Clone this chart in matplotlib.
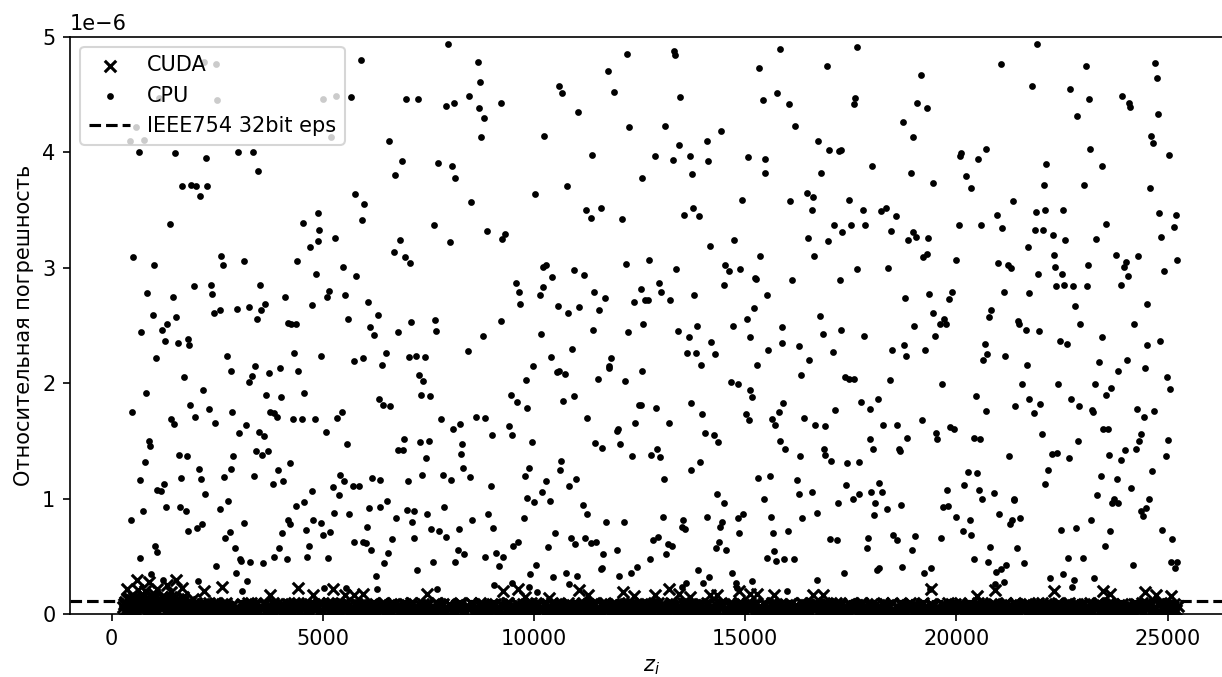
import numpy as np
import matplotlib
matplotlib.use("Agg")
import matplotlib.pyplot as plt

# ---------------------------------------------------------------------------
# CPU relative error (units of 1e-6), sampled points z_i
# ---------------------------------------------------------------------------
cpu_z = [
    2185, 2461, 1112, 2500, 5010, 5310, 567, 441, 772, 5191, 638, 1506, 2232, 2990, 3345, 3455, 1664, 1877, 1996, 2256,
    2090, 1372, 4891, 4521, 4915, 5294, 4876, 4694, 512, 1001, 2595, 2635, 3140, 4394, 4828, 5476, 1956, 2351, 3518,
    5902, 7954, 8672, 8719, 12191, 11749, 10597, 10668, 11883, 5665, 6967, 7251, 7914, 8096, 8466, 8695, 8806, 9224, 11047, 12238,
    6565, 8735, 10242, 11378, 6873, 7717, 8056, 8119, 6699, 10779, 10029, 5760, 5981, 8514, 5918, 7630, 11220, 11583, 11355, 12088,
    8885, 9248, 9311, 6825, 8001, 6675, 6944, 7070, 10203, 10289, 10952, 11181, 10424, 12175, 5784, 9579, 10218,
    13304, 13328, 15813, 17652, 15324, 16926, 19167, 13462, 15419, 15742, 16042, 17605, 17581, 19072, 19293, 13107, 14432, 16184, 18741, 18962,
    13422, 14085, 16721, 16989, 17218, 17257, 12862, 13280, 13683, 14125, 15056, 15458, 13746, 15474, 16784, 18007, 18922, 12562, 16460, 16610,
    14930, 16058, 17455, 16587, 13549, 13770, 13904, 17786, 18204, 18338, 18559, 17100, 17297, 17494, 17833, 18457, 16476, 16965, 18859, 18978,
    19049, 19340, 14164, 14724, 12728, 15348, 16626, 19214, 19309, 13351, 14527, 14614, 14874, 17636, 18378, 12957, 14503, 15237, 15261, 16105,
    17234, 12531,
    21913, 21045, 23065, 24706, 24754, 21779, 22694, 23136, 23933, 24083, 24107, 24777, 22860, 24620, 24667, 25038, 20106, 20090, 20698, 20516,
    23160, 22126, 23444, 20232, 20343, 19451, 22071, 23018, 24596, 21337, 20958, 21889, 22094, 22513, 24801, 25196, 20051, 20579, 21092, 21866,
    22047, 22292, 22576, 23538, 23310, 24840, 25148, 21692, 22315, 23775, 24312, 25219, 19987, 20982, 21211, 21282, 22339, 21937, 22497, 23112,
    23980, 24028, 24067, 24911, 22355, 22560, 22757, 23089, 23893,
    843, 1443, 2374, 4102, 4734, 5105, 5136, 5523, 5586, 970, 1301, 1530, 701, 1198, 1262, 1569, 1814, 1838, 1041, 2414,
    2572, 2966, 3258, 3542, 3637, 3440, 4173, 4252, 4355, 2729, 2816, 3392, 3321, 3242, 3724, 3984, 4323, 4410, 4947, 1704,
    812, 2169, 3660, 4008, 4560, 480, 1861, 2295, 1972, 1396, 1483, 2437, 2856, 3739, 3834, 3905, 4300, 4505, 4813, 5341,
    5452, 3171, 3014, 3479, 3613, 5073, 875, 907, 5562, 796, 1593, 1775, 2879, 3416, 3566, 3708, 4229, 2059, 2832, 3929,
    662, 1640, 2106, 2658, 3368, 3810, 4063, 5404, 5499, 1238, 1064, 1167, 2216, 2753, 4749, 5231, 5373, 1285, 733, 1625,
    1751, 2556, 4363, 4544, 5610, 5270, 457, 3124, 4173, 4221, 4765, 4962, 1798, 2011, 2145, 2674, 2793, 4039, 4592, 4994,
    5168,
    6076, 6304, 6123, 6210, 6770, 7093, 7654, 7677, 9208, 8782, 9650, 9674, 10139, 10558, 10802, 11070, 11426, 11670, 11528, 11402,
    12373, 12215, 10155, 5744, 5941, 6391, 6502, 7046, 7212, 7409, 8443, 7267, 7362, 7314, 7535, 6328, 6431, 6588, 10392, 9974,
    10905, 9800, 10534, 10589, 10731, 11828, 11781, 11765, 11505, 12152, 9445, 9603, 9824, 10692, 10936, 12483, 7804, 8072, 8253, 8624,
    8845, 9398, 9484, 9011, 6920, 6778, 6904, 7291, 7512, 8293, 8277, 7449, 8317, 8490, 9950, 11260, 11449, 11599, 11978, 11954,
    12041, 12396, 12325, 10637, 10613, 9887, 9776, 10274, 10179, 10818, 10999, 8979, 9839, 10005, 10376, 6162, 6360, 7022, 7338, 7835,
    8025, 5705, 5862, 6517, 6344, 6099, 6983, 7165, 6730, 7117, 7472, 7875, 8538, 8916, 9027, 9753, 7559, 7756, 7906, 8222,
    6052, 6628, 7149, 5728, 5949, 6012, 11149, 11244, 11710, 12128, 10494, 10865, 10976, 11205, 11339, 11473, 9626,
    12996, 12617, 12704, 13217, 13793, 15521, 18788, 19356, 12570, 13399, 13659, 13864, 13612, 13841, 14196, 14290, 13951, 14709, 15040, 15214,
    15103, 15545, 15876, 15861, 15277, 16263, 16500, 16326, 16768, 16831, 17273, 17076, 17810, 18480, 19001, 18765, 18804, 19246, 12546, 14653,
    14819, 15119, 15150, 17352, 17455, 17565, 18433, 12523, 12878, 13706, 13975, 13193, 15016, 15079, 15900, 15790, 15632, 15703, 16389, 16658,
    16878, 17123, 17746, 17944, 18141, 18252, 18599, 19183, 18828, 17960, 18031, 18630, 18654, 14038, 14259, 14346, 15829, 15947, 16295, 16855,
    16894, 17029, 17407, 17691, 12902, 12775, 12980, 13927, 13722, 13083, 15300, 15592, 16232, 16279, 16571, 17391, 17541, 17683, 17983, 18165,
    18236, 18078, 18362, 18678, 18054, 17186, 16705, 16350, 15442, 14322, 14488, 13059, 13525, 13493, 13572, 14101, 14448, 14401, 14827, 14945,
    15608, 14851, 15656, 16011, 17005, 17170, 17896, 18504, 18591, 19025, 12815, 12925, 13178, 14369,
    19901, 19830, 21116, 21731, 19435, 19711, 19617, 19759, 19498, 20824, 20777, 21463, 21487, 21652, 21952, 22820, 22931, 22447, 22623, 23460,
    24509, 24217, 24817, 24525, 20674, 20737, 20627, 21155, 21668, 23389, 23838, 24036, 24462, 24998, 25061, 19648, 21558, 22418, 23286, 23665,
    23554, 20469, 20713, 21400, 21708, 21976, 21842, 22710, 22907, 23215, 23239, 24280, 24438, 24683, 19506, 19553, 19845, 19940, 20406, 20556,
    22023, 22884, 23468, 23594, 24367, 24320, 25014, 21250, 22260, 22378, 22670, 23617, 23909, 24004, 24264, 24967, 20272, 20492, 20177, 19782,
    20540, 20603, 20895, 22173, 22110, 23420, 23799, 24130, 24643, 23333, 23728, 23696, 23830, 24564, 24485, 24383, 24422, 21353, 21376, 19680,
    19806, 20003, 20319, 21005, 21321, 21274, 21510, 20161, 20358, 19632, 22473, 22844, 23199, 23641, 24864, 25109,
    1017, 1080, 678, 2919, 2477, 3045, 3069, 3282, 3590, 3834, 3960, 4150, 4615, 4663, 5113, 2950, 3211, 3077, 2035, 922,
    1214, 5034, 5546,
    6139, 6541, 6446, 6249, 6273, 7228, 7606, 7693, 8135, 8206, 8340, 8829, 9090, 9271, 9161, 9508, 10337, 11639, 11954, 11576,
    11615, 12017, 12294, 12436, 9910, 10045, 10439, 10755, 11023, 10834, 9050, 9477, 9871, 10076,
    12752, 13122, 13257, 14314, 14551, 13880, 13991, 14148, 14685, 14772, 15166, 13493, 13588, 15506, 15687, 15727, 15924, 16145, 16689, 17344,
    17881, 18109, 18173, 18717, 18946, 19230, 19372, 15979, 14803,
    19411, 20422, 20800, 21447, 20753, 20927, 21061, 21179, 21605, 21132, 20919, 22221, 22528, 22639, 22781, 23002, 22734, 23262, 23515, 24193,
    25077, 25235, 25172,
]

cpu_err_e6 = [
    4.78, 4.76, 4.47, 4.45, 4.46, 4.49, 4.22, 4.10, 4.11, 4.13, 4.00, 3.99, 3.95, 4.00, 4.00, 3.84, 3.71, 3.72, 3.71, 3.71,
    3.62, 3.38, 3.47, 3.39, 3.33, 3.26, 3.23, 3.18, 3.09, 3.02, 3.10, 3.02, 3.06, 3.06, 2.95, 3.01, 2.84, 2.85, 2.85,
    4.80, 4.94, 4.78, 4.61, 4.85, 4.70, 4.57, 4.51, 4.52, 4.48, 4.46, 4.46, 4.40, 4.43, 4.49, 4.38, 4.30, 4.43, 4.35, 4.22,
    4.10, 4.13, 4.14, 3.98, 3.92, 3.91, 3.88, 3.78, 3.80, 3.71, 3.64, 3.64, 3.55, 3.57, 3.41, 3.37, 3.50, 3.52, 3.43, 3.42,
    3.32, 3.25, 3.29, 3.24, 3.22, 3.14, 3.09, 3.04, 3.01, 3.02, 2.98, 2.94, 2.92, 3.03, 2.93, 2.87, 2.83,
    4.88, 4.84, 4.89, 4.91, 4.73, 4.75, 4.67, 4.48, 4.45, 4.51, 4.42, 4.47, 4.42, 4.43, 4.38, 4.23, 4.18, 4.23, 4.26, 4.13,
    4.06, 4.10, 4.10, 4.02, 4.01, 4.02, 3.97, 3.93, 3.97, 3.92, 3.96, 3.94, 3.81, 3.82, 3.82, 3.88, 3.82, 3.78, 3.65, 3.61,
    3.59, 3.58, 3.59, 3.50, 3.46, 3.52, 3.45, 3.50, 3.49, 3.52, 3.45, 3.37, 3.31, 3.37, 3.37, 3.32, 3.26, 3.23, 3.24, 3.31,
    3.27, 3.26, 3.19, 3.24, 3.07, 3.10, 3.10, 3.09, 3.12, 2.99, 3.02, 2.97, 2.99, 2.99, 3.00, 2.87, 2.85, 2.91, 2.90, 2.89,
    2.89, 2.82,
    4.94, 4.76, 4.75, 4.77, 4.64, 4.57, 4.55, 4.46, 4.49, 4.43, 4.39, 4.33, 4.31, 4.14, 4.08, 3.98, 3.99, 3.97, 4.03, 3.94,
    4.03, 3.90, 3.88, 3.79, 3.69, 3.73, 3.72, 3.72, 3.69, 3.58, 3.46, 3.48, 3.50, 3.50, 3.47, 3.46, 3.37, 3.37, 3.34, 3.33,
    3.33, 3.28, 3.24, 3.38, 3.25, 3.27, 3.35, 3.18, 3.11, 3.11, 3.10, 3.07, 3.07, 3.04, 3.02, 3.00, 3.01, 2.95, 2.95, 3.02,
    3.01, 3.05, 2.93, 2.97, 2.84, 2.85, 2.84, 2.84, 2.85,
    2.78, 2.75, 2.77, 2.75, 2.68, 2.75, 2.80, 2.76, 2.56, 2.59, 2.51, 2.57, 2.44, 2.46, 2.37, 2.35, 2.38, 2.33, 2.22, 2.61,
    2.63, 2.64, 2.66, 2.63, 2.69, 2.56, 2.52, 2.51, 2.51, 2.24, 2.11, 2.15, 2.06, 2.01, 2.09, 2.13, 2.26, 2.11, 2.24, 2.05,
    1.92, 1.94, 1.90, 1.88, 1.92, 1.75, 1.81, 1.78, 1.71, 1.69, 1.65, 1.66, 1.75, 1.75, 1.74, 1.71, 1.69, 1.69, 1.69, 1.70,
    1.75, 1.64, 1.57, 1.58, 1.54, 1.58, 1.50, 1.46, 1.47, 1.32, 1.38, 1.37, 1.37, 1.41, 1.38, 1.41, 1.31, 1.26, 1.26, 1.25,
    1.16, 1.18, 1.17, 1.19, 1.20, 1.13, 1.15, 1.21, 1.15, 1.13, 1.08, 1.07, 1.04, 0.98, 1.07, 1.10, 1.03, 0.93, 0.89, 0.93,
    0.89, 0.91, 0.94, 0.97, 0.87, 0.88, 0.82, 0.79, 0.82, 0.78, 0.82, 0.79, 0.72, 0.75, 0.78, 0.66, 0.71, 0.70, 0.73, 0.69,
    0.71,
    2.70, 2.59, 2.49, 2.42, 2.44, 2.53, 2.55, 2.45, 2.54, 2.41, 2.79, 2.69, 2.76, 2.67, 2.61, 2.66, 2.79, 2.74, 2.63, 2.46,
    2.70, 2.44, 2.43, 2.19, 2.22, 2.16, 2.26, 2.23, 2.24, 2.23, 2.28, 2.07, 2.02, 1.90, 1.89, 1.86, 1.81, 1.80, 2.23, 2.15,
    2.30, 2.03, 2.10, 2.11, 2.08, 2.22, 2.15, 2.13, 2.04, 2.02, 1.90, 1.84, 1.79, 1.85, 1.89, 1.81, 1.69, 1.60, 1.65, 1.71,
    1.70, 1.63, 1.55, 1.55, 1.52, 1.42, 1.42, 1.49, 1.50, 1.47, 1.39, 1.35, 1.27, 1.19, 1.49, 1.70, 1.48, 1.44, 1.60, 1.59,
    1.47, 1.66, 1.37, 1.33, 1.25, 1.27, 1.20, 1.15, 1.06, 1.11, 1.17, 1.11, 1.01, 0.97, 0.98, 1.18, 1.16, 1.15, 1.21, 1.21,
    1.16, 1.11, 1.11, 0.98, 0.93, 0.92, 0.90, 0.89, 0.83, 0.80, 0.87, 0.93, 0.82, 0.87, 0.75, 0.83, 0.74, 0.72, 0.67, 0.74,
    0.76, 0.65, 0.66, 0.63, 0.63, 0.62, 0.95, 0.87, 0.80, 0.80, 0.70, 0.66, 0.61, 0.66, 0.62, 0.63, 0.63,
    2.79, 2.72, 2.72, 2.72, 2.76, 2.76, 2.74, 2.77, 2.51, 2.45, 2.40, 2.50, 2.26, 2.26, 2.36, 2.25, 2.16, 2.50, 2.56, 2.65,
    2.40, 2.29, 2.49, 2.35, 2.16, 2.32, 2.20, 2.07, 2.58, 2.43, 2.46, 2.27, 2.41, 2.29, 2.50, 2.33, 2.24, 2.29, 2.11, 2.01,
    1.99, 1.94, 1.88, 2.05, 2.04, 2.04, 2.03, 1.81, 1.79, 1.83, 1.73, 1.66, 1.73, 1.68, 1.83, 1.75, 1.69, 1.64, 1.70, 1.64,
    1.63, 1.77, 1.84, 1.78, 1.86, 1.64, 1.64, 1.68, 1.53, 1.52, 1.43, 1.43, 1.41, 1.57, 1.55, 1.49, 1.50, 1.43, 1.37, 1.43,
    1.38, 1.33, 1.31, 1.32, 1.43, 1.38, 1.36, 1.32, 1.25, 1.17, 1.18, 1.20, 1.16, 1.04, 1.06, 1.12, 1.00, 1.04, 1.06, 1.14,
    1.06, 0.96, 0.91, 0.95, 0.86, 0.96, 0.88, 0.83, 1.00, 1.04, 0.96, 0.84, 0.82, 0.76, 0.74, 0.84, 0.80, 0.76, 0.83, 0.87,
    0.84, 0.70, 0.70, 0.72, 0.65, 0.64, 0.66, 0.69, 0.64, 0.68, 0.64, 0.67, 0.61, 0.63,
    2.79, 2.73, 2.79, 2.78, 2.61, 2.56, 2.51, 2.51, 2.41, 2.63, 2.57, 2.54, 2.51, 2.46, 2.45, 2.67, 2.51, 2.37, 2.34, 2.40,
    2.69, 2.51, 2.37, 2.33, 2.34, 2.25, 2.20, 2.24, 2.16, 2.18, 2.11, 2.20, 2.13, 2.05, 1.95, 1.99, 1.99, 1.99, 1.99, 1.96,
    1.90, 1.89, 1.76, 1.80, 1.86, 1.82, 1.74, 1.86, 1.80, 1.77, 1.75, 1.78, 1.71, 1.76, 1.57, 1.52, 1.62, 1.60, 1.53, 1.52,
    1.56, 1.50, 1.60, 1.60, 1.56, 1.50, 1.51, 1.37, 1.39, 1.40, 1.35, 1.38, 1.34, 1.42, 1.43, 1.37, 1.23, 1.22, 1.12, 1.08,
    1.08, 1.00, 1.05, 1.25, 1.13, 1.20, 1.17, 1.09, 1.24, 1.03, 1.00, 0.96, 0.96, 1.00, 0.92, 0.89, 0.85, 1.00, 0.99, 0.93,
    0.94, 0.84, 0.82, 0.87, 0.82, 0.78, 0.83, 0.72, 0.69, 0.66, 0.73, 0.75, 0.82, 0.72, 0.73, 0.65,
    0.59, 0.54, 0.49, 0.57, 0.42, 0.48, 0.46, 0.45, 0.44, 0.50, 0.57, 0.48, 0.50, 0.59, 0.49, 0.36, 0.29, 0.20, 0.29, 0.35,
    0.30, 0.23, 0.23,
    0.56, 0.53, 0.44, 0.33, 0.22, 0.38, 0.45, 0.22, 0.45, 0.56, 0.52, 0.50, 0.53, 0.50, 0.42, 0.59, 0.58, 0.52, 0.56, 0.39,
    0.40, 0.33, 0.36, 0.41, 0.35, 0.43, 0.32, 0.36, 0.33, 0.26, 0.25, 0.27, 0.24, 0.19,
    0.48, 0.52, 0.59, 0.57, 0.56, 0.38, 0.27, 0.32, 0.36, 0.27, 0.29, 0.24, 0.27, 0.49, 0.55, 0.46, 0.48, 0.48, 0.30, 0.36,
    0.57, 0.38, 0.40, 0.41, 0.56, 0.36, 0.22, 0.20, 0.23,
    0.40, 0.48, 0.58, 0.57, 0.45, 0.37, 0.39, 0.43, 0.44, 0.28, 0.26, 0.31, 0.35, 0.49, 0.30, 0.49, 0.24, 0.31, 0.59, 0.43,
    0.45, 0.45, 0.40,
]

# ---------------------------------------------------------------------------
# CUDA relative error (units of 1e-8): dense low band + the few larger outliers
# ---------------------------------------------------------------------------
cuda_z = [
    272, 305, 341, 368, 402, 447, 476, 512, 548, 590, 618, 655, 702, 731, 770, 806, 842, 887, 915, 951,
    990, 1027, 1066, 1102, 1139, 1181, 1214, 1255, 1290, 1333, 1368, 1401, 1447, 1480, 1523, 1561, 1598, 1640, 1676, 1712,
    1760, 1795, 1838, 1870, 1915, 1951, 1993,
    2041, 2098, 2150, 2212, 2265, 2331, 2384, 2440, 2502, 2558, 2611, 2675, 2730, 2788, 2842, 2905, 2961,
    3020, 3077, 3135, 3190, 3255, 3307, 3366, 3420, 3481, 3538, 3596, 3650, 3711, 3765, 3827, 3880, 3942,
    4001, 4060, 4114, 4175, 4232, 4290, 4347, 4402, 4466, 4520, 4580, 4635, 4697, 4751, 4810, 4866, 4929, 4980,
    5041, 5095, 5158, 5210, 5272, 5328, 5385, 5440, 5502, 5556, 5620, 5673, 5731, 5790, 5846, 5905, 5962,
    6020, 6081, 6137, 6195, 6250, 6312, 6370, 6425, 6488, 6540, 6602, 6655, 6718, 6772, 6830, 6891, 6945,
    7003, 7066, 7120, 7181, 7236, 7298, 7351, 7410, 7471, 7525, 7588, 7640, 7703, 7756, 7818, 7872, 7935, 7990,
    8050, 8106, 8165, 8222, 8280, 8341, 8396, 8455, 8513, 8570, 8631, 8685, 8748, 8801, 8862, 8920, 8977,
    9036, 9095, 9150, 9211, 9266, 9327, 9382, 9444, 9498, 9560, 9615, 9677, 9731, 9793, 9848, 9907, 9965,
    10022, 10083, 10137, 10199, 10254, 10316, 10370, 10432, 10487, 10549, 10603, 10665, 10720, 10781, 10836, 10898, 10955,
    11012, 11073, 11128, 11190, 11245, 11306, 11361, 11423, 11478, 11540, 11594, 11656, 11711, 11772, 11827, 11889, 11944,
    12003, 12064, 12119, 12181, 12236, 12297, 12352, 12414, 12469, 12531, 12585, 12647, 12702, 12763, 12818, 12880, 12935, 12990,
    13052, 13107, 13169, 13224, 13285, 13340, 13402, 13457, 13519, 13573, 13635, 13690, 13751, 13806, 13868, 13923, 13981,
    14043, 14098, 14160, 14215, 14276, 14331, 14393, 14448, 14510, 14564, 14626, 14681, 14742, 14797, 14859, 14914, 14972,
    15034, 15089, 15151, 15206, 15267, 15322, 15384, 15439, 15501, 15555, 15617, 15672, 15733, 15788, 15850, 15905, 15963,
    16025, 16080, 16142, 16197, 16258, 16313, 16375, 16430, 16492, 16546, 16608, 16663, 16724, 16779, 16841, 16896, 16954,
    17016, 17071, 17133, 17188, 17249, 17304, 17366, 17421, 17483, 17537, 17599, 17654, 17715, 17770, 17832, 17887, 17945,
    18007, 18062, 18124, 18179, 18240, 18295, 18357, 18412, 18474, 18528, 18590, 18645, 18706, 18761, 18823, 18878, 18936,
    19011, 19066, 19128, 19183, 19244, 19299, 19361, 19416, 19478, 19532, 19594, 19649, 19710, 19765, 19827, 19882, 19940,
    20002, 20057, 20119, 20174, 20235, 20290, 20352, 20407, 20469, 20523, 20585, 20640, 20701, 20756, 20818, 20873, 20931,
    21005, 21060, 21122, 21177, 21238, 21293, 21355, 21410, 21472, 21526, 21588, 21643, 21704, 21759, 21821, 21876, 21934,
    22008, 22063, 22125, 22180, 22241, 22296, 22358, 22413, 22475, 22529, 22591, 22646, 22707, 22762, 22824, 22879, 22937,
    23011, 23066, 23128, 23183, 23244, 23299, 23361, 23416, 23478, 23532, 23594, 23649, 23710, 23765, 23827, 23882, 23940,
    24014, 24069, 24131, 24186, 24247, 24302, 24364, 24419, 24481, 24535, 24597, 24652, 24713, 24768, 24830, 24885, 24943,
    25010, 25068, 25125, 25183, 25242,
    288, 322, 355, 385, 425, 460, 494, 530, 570, 604, 637, 680, 716, 750, 788, 825, 864, 900, 933, 970,
    1008, 1046, 1084, 1120, 1160, 1197, 1234, 1272, 1311, 1350, 1384, 1424, 1463, 1501, 1542, 1580, 1619, 1658, 1694, 1736,
    1777, 1816, 1854, 1892, 1933, 1972, 2010,
    2070, 2124, 2181, 2238, 2298, 2357, 2412, 2471, 2530, 2584, 2643, 2702, 2759, 2815, 2873, 2933, 2990,
    3048, 3106, 3162, 3222, 3281, 3336, 3393, 3450, 3509, 3567, 3623, 3680, 3738, 3796, 3853, 3911, 3971,
    4030, 4087, 4144, 4203, 4261, 4318, 4374, 4434, 4493, 4550, 4607, 4666, 4724, 4780, 4838, 4897, 4954,
    5010, 5068, 5126, 5184, 5241, 5300, 5356, 5412, 5471, 5529, 5588, 5646, 5702, 5760, 5818, 5875, 5933, 5991,
    6050, 6109, 6166, 6222, 6281, 6341, 6397, 6456, 6514, 6571, 6628, 6686, 6745, 6801, 6860, 6918, 6974,
    7034, 7093, 7150, 7208, 7267, 7324, 7380, 7440, 7498, 7556, 7614, 7671, 7729, 7787, 7845, 7903, 7962,
    8020, 8078, 8135, 8193, 8251, 8310, 8368, 8425, 8484, 8541, 8600, 8658, 8716, 8774, 8831, 8890, 8948,
    9006, 9065, 9122, 9180, 9238, 9296, 9354, 9413, 9471, 9529, 9587, 9646, 9704, 9762, 9820, 9877, 9936, 9994,
    10052, 10110, 10168, 10226, 10285, 10343, 10401, 10459, 10518, 10576, 10634, 10692, 10750, 10808, 10867, 10926, 10984,
    11042, 11100, 11159, 11217, 11275, 11333, 11392, 11450, 11509, 11567, 11625, 11683, 11741, 11799, 11858, 11916, 11974,
    12033, 12091, 12150, 12208, 12266, 12324, 12383, 12441, 12500, 12558, 12616, 12674, 12732, 12790, 12849, 12907, 12962,
    13021, 13079, 13138, 13196, 13254, 13312, 13371, 13429, 13488, 13546, 13604, 13662, 13720, 13778, 13837, 13895, 13952,
    14012, 14070, 14129, 14187, 14245, 14303, 14362, 14420, 14479, 14537, 14595, 14653, 14711, 14769, 14828, 14886, 14943,
    15003, 15061, 15120, 15178, 15236, 15294, 15353, 15411, 15470, 15528, 15586, 15644, 15702, 15760, 15819, 15877, 15934, 15994,
    16052, 16111, 16169, 16227, 16285, 16344, 16402, 16461, 16519, 16577, 16635, 16693, 16751, 16810, 16868, 16925, 16985,
    17043, 17102, 17160, 17218, 17276, 17335, 17393, 17452, 17510, 17568, 17626, 17684, 17742, 17801, 17859, 17916, 17976,
    18034, 18093, 18151, 18209, 18267, 18326, 18384, 18443, 18501, 18559, 18617, 18675, 18733, 18792, 18850, 18907, 18973,
    19038, 19097, 19155, 19213, 19271, 19330, 19388, 19447, 19505, 19563, 19621, 19679, 19737, 19796, 19854, 19911, 19971,
    20029, 20088, 20146, 20204, 20262, 20321, 20379, 20438, 20496, 20554, 20612, 20670, 20728, 20787, 20845, 20902, 20968,
    21032, 21091, 21149, 21207, 21265, 21324, 21382, 21441, 21499, 21557, 21615, 21673, 21731, 21790, 21848, 21905, 21971,
    22035, 22094, 22152, 22210, 22268, 22327, 22385, 22444, 22502, 22560, 22618, 22676, 22734, 22793, 22851, 22908, 22974,
    23038, 23097, 23155, 23213, 23271, 23330, 23388, 23447, 23505, 23563, 23621, 23679, 23737, 23796, 23854, 23911, 23977,
    24041, 24100, 24158, 24216, 24274, 24333, 24391, 24450, 24508, 24566, 24624, 24682, 24740, 24799, 24857, 24914, 24976,
    25039, 25096, 25154, 25212,
]

cuda_err_e8 = [
    6, 11, 3, 9, 14, 5, 12, 8, 2, 13, 7, 10, 4, 15, 9, 6, 12, 3, 11, 8,
    14, 5, 10, 2, 13, 7, 9, 12, 4, 11, 6, 15, 8, 3, 10, 13, 5, 9, 7, 12,
    4, 8, 11, 3, 9, 6, 10,
    7, 3, 9, 5, 1, 8, 4, 10, 6, 2, 9, 5, 7, 3, 8, 1, 6,
    4, 9, 2, 7, 5, 10, 3, 8, 1, 6, 9, 4, 7, 2, 10, 5, 3,
    8, 2, 6, 9, 4, 1, 7, 10, 3, 5, 8, 2, 9, 6, 4, 7, 1, 9,
    5, 8, 2, 10, 6, 3, 9, 1, 7, 4, 8, 5, 2, 9, 6, 3, 7,
    9, 4, 7, 1, 8, 5, 3, 10, 6, 2, 9, 7, 4, 8, 1, 5, 9,
    3, 7, 10, 5, 2, 8, 6, 1, 9, 4, 7, 3, 10, 5, 8, 2, 6, 9,
    6, 1, 8, 4, 9, 3, 7, 5, 10, 2, 6, 8, 3, 9, 5, 1, 7,
    8, 5, 2, 9, 6, 3, 10, 7, 1, 4, 8, 6, 9, 2, 5, 7, 3,
    2, 9, 6, 4, 8, 1, 7, 10, 5, 3, 9, 6, 2, 8, 4, 7, 5,
    7, 3, 9, 6, 1, 8, 4, 10, 2, 5, 9, 7, 3, 6, 8, 2, 9,
    4, 8, 1, 7, 10, 5, 2, 9, 6, 3, 8, 5, 1, 9, 7, 4, 10, 6,
    9, 2, 6, 8, 4, 1, 7, 5, 10, 3, 6, 9, 2, 8, 5, 7, 3,
    5, 10, 3, 7, 9, 2, 6, 8, 1, 4, 9, 6, 3, 7, 10, 5, 2,
    8, 4, 7, 1, 9, 6, 3, 10, 5, 2, 8, 4, 9, 6, 1, 7, 5,
    3, 9, 5, 8, 2, 10, 6, 4, 7, 1, 9, 5, 8, 3, 6, 2, 9,
    6, 2, 8, 5, 10, 3, 7, 1, 9, 4, 6, 8, 2, 10, 5, 3, 7,
    9, 5, 1, 7, 4, 8, 2, 6, 10, 3, 7, 5, 9, 1, 8, 4, 6,
    2, 7, 4, 9, 6, 1, 5, 8, 3, 6, 2, 9, 5, 7, 1, 4, 8,
    6, 3, 8, 1, 5, 9, 4, 7, 2, 10, 6, 3, 8, 5, 9, 2, 7,
    4, 8, 2, 10, 6, 3, 9, 5, 1, 7, 4, 9, 6, 2, 8, 5, 10,
    7, 1, 9, 4, 8, 2, 6, 10, 3, 5, 9, 7, 1, 8, 4, 6, 3,
    9, 5, 3, 8, 1, 7, 10, 4, 6, 2, 8, 5, 9, 3, 7, 1, 6,
    3, 8, 6, 1, 9, 4, 7, 2, 10, 5, 8, 3, 6, 9, 1, 7, 4,
    8, 3, 6, 2, 7,
    9, 4, 13, 7, 2, 11, 6, 14, 3, 10, 8, 12, 5, 9, 13, 2, 7, 11, 4, 15,
    6, 10, 3, 12, 8, 5, 14, 9, 2, 11, 7, 4, 13, 10, 6, 3, 12, 8, 15, 5,
    9, 2, 11, 7, 13, 4, 8,
    5, 1, 8, 3, 10, 6, 2, 9, 4, 7, 1, 10, 5, 3, 8, 6, 2,
    2, 8, 4, 10, 1, 6, 9, 3, 7, 5, 10, 2, 8, 4, 1, 9, 6,
    9, 3, 6, 1, 7, 10, 4, 2, 8, 5, 3, 7, 1, 9, 6, 10, 4,
    1, 7, 10, 5, 3, 8, 2, 6, 9, 4, 7, 1, 5, 10, 3, 8, 5, 2,
    6, 2, 9, 4, 1, 8, 5, 10, 3, 7, 2, 9, 6, 1, 4, 8, 3,
    3, 10, 1, 7, 5, 2, 9, 4, 8, 1, 6, 10, 3, 7, 9, 2, 5,
    8, 4, 2, 6, 10, 3, 1, 7, 5, 9, 4, 2, 10, 6, 3, 7, 1,
    4, 9, 6, 2, 8, 1, 10, 5, 3, 7, 9, 4, 1, 6, 8, 2, 10, 5,
    10, 5, 3, 8, 2, 7, 4, 1, 9, 6, 3, 8, 5, 10, 2, 4, 7,
    1, 6, 10, 3, 9, 5, 2, 8, 4, 1, 7, 10, 6, 2, 9, 3, 5,
    7, 2, 5, 9, 3, 10, 6, 1, 8, 4, 2, 9, 7, 3, 10, 5, 1,
    3, 8, 1, 6, 10, 4, 9, 2, 5, 7, 10, 1, 4, 8, 3, 6, 9,
    6, 1, 9, 4, 2, 8, 3, 10, 7, 5, 1, 6, 9, 2, 4, 10, 8,
    2, 10, 5, 8, 3, 1, 7, 4, 9, 6, 2, 10, 3, 8, 5, 1, 7, 4,
    9, 4, 2, 7, 5, 10, 1, 8, 3, 6, 4, 9, 2, 7, 10, 5, 1,
    4, 7, 10, 2, 8, 1, 5, 9, 6, 3, 8, 2, 10, 4, 7, 1, 6,
    1, 9, 6, 3, 10, 5, 8, 2, 4, 7, 1, 9, 5, 3, 8, 10, 2,
    8, 3, 1, 10, 6, 2, 9, 7, 4, 1, 5, 8, 3, 10, 6, 2, 9,
    5, 10, 7, 2, 4, 9, 1, 6, 8, 3, 10, 5, 2, 7, 4, 9, 1,
    2, 6, 9, 5, 1, 7, 10, 3, 8, 4, 6, 1, 9, 5, 2, 8, 3,
    10, 4, 2, 8, 6, 1, 5, 9, 3, 7, 2, 10, 4, 6, 9, 1, 8,
    3, 7, 10, 1, 5, 9, 2, 8, 6, 4, 10, 3, 7, 1, 5, 9, 2,
    6, 2, 4, 9, 7, 3, 10, 1, 5, 8, 4, 6, 2, 9, 10, 3, 7,
    5, 1, 9, 4,
]

cuda_peak_z = [
    354, 473, 591, 620, 733, 788, 891, 1000, 1080, 1180, 1301, 1400, 1514, 1656,
    2185, 2603, 3755, 4402, 4757, 5247, 5523, 5736, 5957, 7456, 9256, 9611, 9784, 10360,
    11063, 11268, 12112, 12372, 12862, 13201, 13430, 13691, 14164, 14338, 14851, 15111, 15285, 15687,
    16610, 16847, 19411, 20477, 20911, 22307, 23475, 23633, 24469, 24738, 25093,
]
cuda_peak_err_e8 = [
    22, 17, 30, 21, 17, 20, 28, 18, 22, 15, 25, 19, 30, 23,
    20, 24, 17, 23, 17, 22, 17, 17, 18, 18, 20, 22, 15, 14,
    21, 17, 19, 16, 17, 22, 18, 15, 17, 17, 20, 18, 18, 17,
    17, 17, 22, 16, 21, 20, 20, 18, 19, 17, 16,
]

cpu_x = np.array(cpu_z, dtype=float)
cpu_y = np.array(cpu_err_e6) * 1e-6
cuda_x = np.array(cuda_z + cuda_peak_z, dtype=float)
cuda_y = np.array(cuda_err_e8 + cuda_peak_err_e8) * 1e-8

eps32 = float(np.finfo(np.float32).eps)

DPI = 150
fig = plt.figure(figsize=(1222 / DPI, 677 / DPI), dpi=DPI)
ax = fig.add_axes([0.0573, 0.0926, 0.9517, 0.8532])

ax.scatter(cuda_x, cuda_y, marker="x", s=30, color="black", label="CUDA")
ax.scatter(cpu_x, cpu_y, marker=".", s=20, color="black", label="CPU")
ax.axhline(eps32, color="black", linestyle="--", label="IEEE754 32bit eps")

ax.set_xlim(-987, 26550)
ax.set_ylim(0, 5e-6)
ax.set_xlabel("$z_i$")
ax.set_ylabel("Относительная погрешность")
ax.legend(loc="upper left")

fig.savefig("out.png", dpi=DPI)
